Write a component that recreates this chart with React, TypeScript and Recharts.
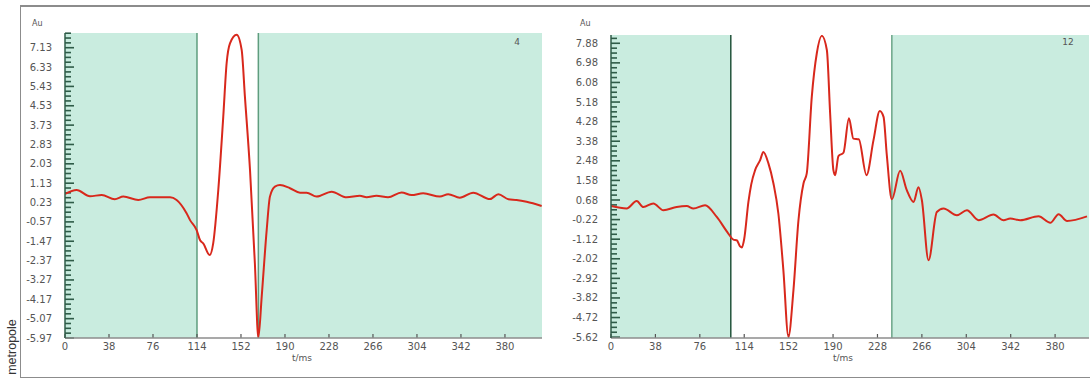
import React from 'react';
import { LineChart, Line, XAxis, YAxis, CartesianGrid, ReferenceArea, ReferenceLine } from 'recharts';

// time ticks (ms), same for both leads
const timeTicks = [0, 38, 76, 114, 152, 190, 228, 266, 304, 342, 380];

// amplitude tick labels as printed on each panel
const leadALabels = ['7.13', '6.33', '5.43', '4.53', '3.73', '2.83', '2.03', '1.13', '0.23', '-0.57', '-1.47', '-2.37', '-3.27', '-4.17', '-5.07', '-5.97'];
const leadBLabels = ['7.88', '6.98', '6.08', '5.18', '4.28', '3.38', '2.48', '1.58', '0.68', '-0.22', '-1.12', '-2.02', '-2.92', '-3.82', '-4.72', '-5.62'];

// lead 4
const leadATime = [0, 10, 21.6, 31.7, 43, 50.4, 63.3, 73.4, 90.7, 96.4, 105, 108, 113.7, 116.6, 119.4, 125, 128, 132.4, 136.7, 139.6, 142.5, 148.3, 152.6, 155.4, 159.8, 164, 167, 169.9, 174.2, 177, 181.3, 185.7, 194.3, 203, 208.7, 217.3, 230.3, 243.3, 254.7, 260.5, 269, 279, 290.7, 299.3, 309.4, 323.8, 331, 341, 352.6, 367, 374.3, 383, 390, 398.7, 411.7];
const leadAAmp = [0.53, 0.71, 0.43, 0.48, 0.29, 0.41, 0.26, 0.38, 0.38, 0.26, -0.34, -0.65, -1.1, -1.55, -1.7, -2.23, -1.7, 0.71, 4.02, 6.43, 7.33, 7.72, 7.03, 4.92, 1.61, -2.6, -5.95, -4.1, -1.1, 0.41, 0.86, 0.93, 0.79, 0.59, 0.59, 0.41, 0.63, 0.38, 0.45, 0.38, 0.45, 0.38, 0.6, 0.48, 0.56, 0.41, 0.52, 0.36, 0.59, 0.3, 0.52, 0.29, 0.26, 0.18, -0.01];

// lead 12
const leadBTime = [0, 13.4, 22, 27.7, 36.2, 44.8, 56.2, 64.8, 70.5, 80.5, 90.5, 100.4, 104.7, 107.6, 110.4, 112, 114, 117.6, 120, 123.3, 127.6, 130.4, 134.7, 139, 143.2, 147.5, 151.8, 156.1, 160.4, 164.7, 167.5, 171.8, 176.1, 180.4, 184.7, 187.5, 190.3, 191.8, 194.6, 198.9, 203.6, 207.4, 212, 218.6, 224.6, 230, 233.2, 236, 240.3, 247.4, 253.1, 258.8, 263.1, 266, 271.7, 278.8, 284.5, 296, 304.5, 314.5, 327.3, 335.9, 341.6, 350.2, 365.8, 375.9, 383, 390.2, 407.3];
const leadBAmp = [0.4, 0.29, 0.63, 0.36, 0.52, 0.21, 0.36, 0.4, 0.29, 0.44, -0.1, -0.86, -1.14, -1.17, -1.45, -1.5, -1.1, 0.6, 1.4, 2.05, 2.51, 2.89, 2.36, 1.44, 0.06, -2.55, -5.6, -3.47, -0.25, 1.44, 1.9, 5.42, 7.42, 8.22, 7.57, 4.66, 2.05, 1.82, 2.7, 2.85, 4.43, 3.5, 3.47, 1.82, 3.43, 4.77, 4.5, 2.74, 0.71, 2.02, 1.13, 0.59, 1.26, 0.67, -2.09, 0.13, 0.29, -0.02, 0.21, -0.25, 0.01, -0.25, -0.17, -0.25, -0.07, -0.37, 0.03, -0.28, -0.07];

const GREEN = '#c9ecdf';
const TICK = '#2f5c48';
const FRAME = '#8c8c8c';
const TEXT = '#555';
const FONT = 'DejaVu Sans';

function evenTicks(labels: string[]) {
  const a = parseFloat(labels[0]);
  const b = parseFloat(labels[labels.length - 1]);
  const n = labels.length - 1;
  return labels.map((_, i) => a + ((b - a) * i) / n);
}

// quarter-step ticks from the bottom label up to the top of the plot
function minorTicks(major: number[], top: number) {
  const step = (major[0] - major[1]) / 4;
  const out: number[] = [];
  const bottom = major[major.length - 1];
  for (let v = bottom; v <= top + 1e-9; v += step) out.push(v);
  return out;
}

type PanelProps = {
  left: number;
  width: number;
  margin: { top: number; right: number; bottom: number; left: number };
  time: number[];
  amp: number[];
  labels: string[];
  yTop: number;
  yBottom: number;
  xMax: number;
  win: [number, number];
  tag: string;
  auX: number;
  unitX: number;
  tagX: number;
  winLines: [string, string];
};

function Panel(p: PanelProps) {
  const data = p.time.map((t, i) => ({ t, v: p.amp[i] }));
  const major = evenTicks(p.labels);
  const minor = minorTicks(major, p.yTop);
  const tickFont = { fontSize: 10, fill: TEXT, fontFamily: FONT };
  // comb lengths converted to data units
  const plotW = p.width - p.margin.left - p.margin.right - 60;
  const plotH = 378 - p.margin.top - p.margin.bottom - 30;
  const xPerPx = p.xMax / plotW;
  const yPerPx = (p.yTop - p.yBottom) / plotH;

  return (
    <div style={{ position: 'absolute', left: p.left, top: 0, width: p.width, height: 378 }}>
      <LineChart width={p.width} height={378} data={data} margin={p.margin}>
        <CartesianGrid horizontal={false} vertical={false} fill={GREEN} stroke="none" />
        <ReferenceArea x1={p.win[0]} x2={p.win[1]} y1={p.yBottom} y2={p.yTop} fill="#ffffff" fillOpacity={1} stroke="none" />
        <ReferenceLine x={p.win[0]} stroke={p.winLines[0]} strokeWidth={1.5} />
        <ReferenceLine x={p.win[1]} stroke={p.winLines[1]} strokeWidth={1.5} />
        {minor.map((v, i) => (
          <ReferenceLine
            key={'m' + i}
            ifOverflow="extendDomain"
            segment={[{ x: 0, y: v }, { x: (i % 4 === 0 ? 9 : 6) * xPerPx, y: v }]}
            stroke={TICK}
            strokeWidth={1.6}
          />
        ))}
        {timeTicks.map((t) => (
          <ReferenceLine
            key={'t' + t}
            ifOverflow="extendDomain"
            segment={[{ x: t, y: p.yBottom }, { x: t, y: p.yBottom + 4 * yPerPx }]}
            stroke="#555"
            strokeWidth={1.2}
          />
        ))}
        <XAxis
          dataKey="t"
          type="number"
          domain={[0, p.xMax]}
          ticks={timeTicks}
          interval={0}
          allowDataOverflow
          height={30}
          tickLine={false}
          tickSize={0}
          tickMargin={5}
          axisLine={{ stroke: FRAME, strokeWidth: 1.5 }}
          tick={tickFont}
        />
        <XAxis xAxisId="top" orientation="top" type="number" domain={[0, p.xMax]} mirror height={0} tick={false} tickLine={false} axisLine={{ stroke: FRAME, strokeWidth: 1.5 }} />
        <YAxis
          type="number"
          domain={[p.yBottom, p.yTop]}
          ticks={major}
          interval={0}
          allowDataOverflow
          width={60}
          tickLine={false}
          tickSize={0}
          tickMargin={13}
          axisLine={{ stroke: TICK, strokeWidth: 1.5 }}
          tick={tickFont}
          tickFormatter={(_v: number, i: number) => p.labels[i]}
        />
        <YAxis yAxisId="right" orientation="right" type="number" domain={[p.yBottom, p.yTop]} mirror width={0} tick={false} tickLine={false} axisLine={{ stroke: FRAME, strokeWidth: 1.5 }} />
        <Line type="monotone" dataKey="v" stroke="#d8281c" strokeWidth={2} dot={false} isAnimationActive={false} />
      </LineChart>
      <div style={{ position: 'absolute', left: p.auX, top: 19, fontSize: 8, color: TEXT, fontFamily: FONT }}>Au</div>
      <div style={{ position: 'absolute', left: p.unitX - 20, width: 40, textAlign: 'center', top: 353, fontSize: 9, color: TEXT, fontFamily: FONT }}>t/ms</div>
      <div style={{ position: 'absolute', left: p.tagX - 15, width: 30, textAlign: 'center', top: 37, fontSize: 9, color: TEXT, fontFamily: FONT }}>{p.tag}</div>
    </div>
  );
}

export default function App() {
  const leadA = evenTicks(leadALabels);
  const stepA = leadA[0] - leadA[1];
  return (
    <div style={{ position: 'absolute', left: 0, top: 0, width: 1090, height: 378, overflow: 'hidden', background: '#fff' }}>
      <div style={{ position: 'absolute', left: 20, top: 5, width: 1100, height: 370, borderTop: `2px solid ${FRAME}`, borderBottom: `2px solid ${FRAME}`, borderLeft: `1px solid ${FRAME}` }} />
      <Panel
        left={0}
        width={560}
        margin={{ top: 33, right: 18, bottom: 10, left: 5 }}
        time={leadATime}
        amp={leadAAmp}
        labels={leadALabels}
        yTop={leadA[0] + stepA * 0.76}
        yBottom={-5.97}
        xMax={412}
        win={[114, 167]}
        tag="4"
        auX={32}
        unitX={302}
        tagX={517}
        winLines={['#5f9d7e', '#5f9d7e']}
      />
      <Panel
        left={550}
        width={540}
        margin={{ top: 35, right: 1, bottom: 10, left: 1 }}
        time={leadBTime}
        amp={leadBAmp}
        labels={leadBLabels}
        yTop={8.26}
        yBottom={-5.66}
        xMax={409}
        win={[102.5, 240.3]}
        tag="12"
        auX={30}
        unitX={293}
        tagX={518}
        winLines={['#23543c', '#6aa587']}
      />
      <div style={{ position: 'absolute', left: 12, top: 347, transform: 'translate(-50%, -50%) rotate(-90deg)', fontSize: 12.5, color: '#333', fontFamily: 'Liberation Sans', whiteSpace: 'nowrap' }}>metropole</div>
    </div>
  );
}
